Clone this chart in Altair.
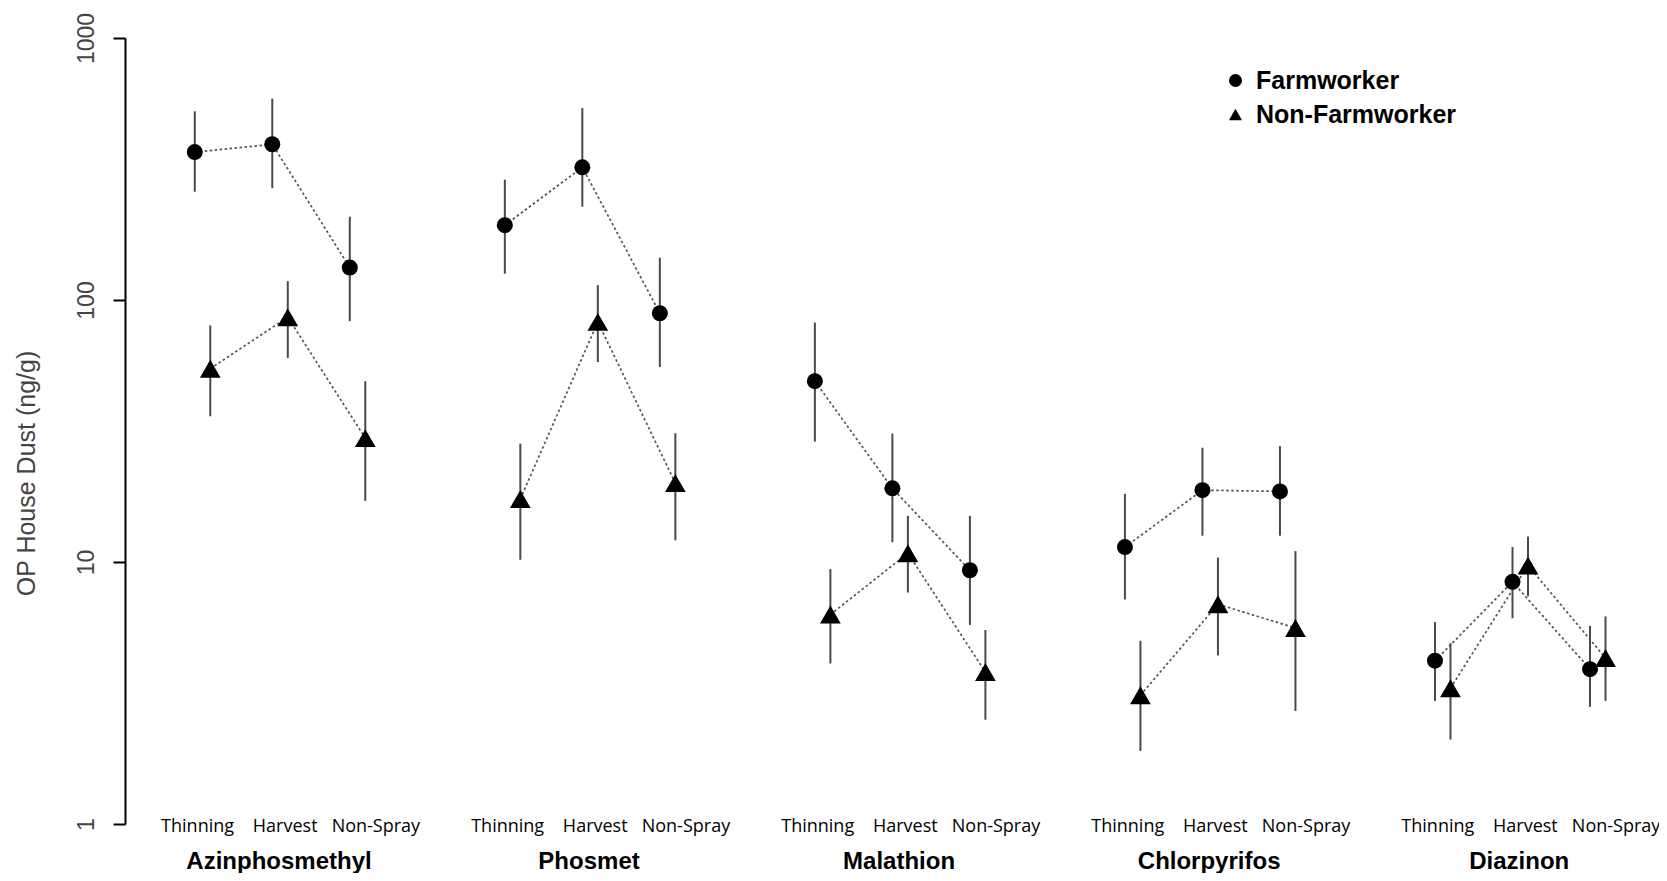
import json
import altair as alt
import pandas as pd

# ---------------- data ----------------
chemicals = ["Azinphosmethyl", "Phosmet", "Malathion", "Chlorpyrifos", "Diazinon"]
seasons = ["Thinning", "Harvest", "Non-Spray"]
groups = ["Farmworker", "Non-Farmworker"]

# geometric means and CI bounds (ng/g), order: chemical x season
farm_mean = [367, 393, 133, 193, 321, 89, 49, 19.1, 9.3, 11.4, 18.8, 18.6, 4.2, 8.4, 3.9]
farm_upper = [525, 587, 208, 288, 540, 145, 82, 30.9, 15.0, 18.2, 27.3, 27.7, 5.9, 11.4, 5.7]
farm_lower = [259, 267, 83, 126, 227, 55.5, 28.8, 11.9, 5.75, 7.2, 12.6, 12.6, 2.95, 6.1, 2.8]

nonfarm_mean = [54.7, 86, 29.7, 17.4, 82.5, 20.0, 6.3, 10.8, 3.8, 3.1, 6.9, 5.6, 3.3, 9.7, 4.3]
nonfarm_upper = [80, 118, 49, 28.3, 114, 31, 9.4, 15.0, 5.5, 5.0, 10.4, 11.0, 4.9, 12.5, 6.2]
nonfarm_lower = [36, 60, 17.1, 10.2, 58, 12.1, 4.1, 7.65, 2.5, 1.9, 4.4, 2.7, 2.1, 7.4, 2.95]

y_ticks = [1, 10, 100, 1000]

# ---------------- layout constants ----------------
GROUP_STEP = 4          # x units between chemical groups
NUDGE = 0.2             # non-farmworker offset
SEASON_LABEL_OFF = [0.03, 1.16, 2.33]
CHEM_LABEL_OFF = 1.08
X_DOMAIN = [-0.90, 18.89]

rows = []
means = [farm_mean, nonfarm_mean]
uppers = [farm_upper, nonfarm_upper]
lowers = [farm_lower, nonfarm_lower]
for ci, chem in enumerate(chemicals):
    for si, season in enumerate(seasons):
        k = ci * 3 + si
        for gi, grp in enumerate(groups):
            rows.append({
                "chemical": chem,
                "season": season,
                "group": grp,
                "series": f"{chem}|{grp}",
                "pos": ci * GROUP_STEP + si + gi * NUDGE,
                "mean": means[gi][k],
                "upper": uppers[gi][k],
                "lower": lowers[gi][k],
            })
df = pd.DataFrame(rows)

season_vals = [ci * GROUP_STEP + off for ci in range(len(chemicals)) for off in SEASON_LABEL_OFF]
chem_vals = [ci * GROUP_STEP + CHEM_LABEL_OFF for ci in range(len(chemicals))]
season_expr = (f"{json.dumps(seasons)}[(datum.value % {GROUP_STEP}) < 0.6 ? 0 : "
               f"((datum.value % {GROUP_STEP}) < 1.8 ? 1 : 2)]")
chem_expr = f"{json.dumps(chemicals)}[floor(datum.value / {GROUP_STEP})]"

x_scale = alt.Scale(domain=X_DOMAIN, nice=False, zero=False)
y_scale = alt.Scale(type="log", domain=[1, 1000], nice=False)

y_axis = alt.Axis(
    values=y_ticks, format="d", grid=False,
    labelAngle=270, labelAlign="center", labelBaseline="alphabetic", labelPadding=20,
    labelFont="Liberation Sans", labelFontSize=23, labelColor="#444444",
    tickSize=12, tickWidth=2, tickColor="black",
    domainColor="black", domainWidth=2,
    title="OP House Dust (ng/g)", titleFont="Liberation Sans", titleFontSize=25,
    titleFontWeight="normal", titleColor="#444444", titleAngle=270,
    titleX=-99, titleY=435, titleAlign="center", titleBaseline="middle",
)

season_axis = alt.Axis(
    orient="bottom",
    values=season_vals, labelExpr=season_expr, title=None, grid=False,
    domain=False, ticks=False, tickSize=0, labelPadding=2, labelBaseline="middle",
    labelFont="Open Sans", labelFontSize=18, labelColor="black",
    labelFlush=False, labelOverlap=False, labelLimit=0,
)
chem_axis = alt.Axis(
    orient="bottom",
    values=chem_vals, labelExpr=chem_expr, title=None, grid=False,
    domain=False, ticks=False, tickSize=0, labelPadding=37, labelBaseline="middle",
    labelFont="Liberation Sans", labelFontSize=24, labelFontWeight="bold",
    labelColor="black", labelFlush=False, labelOverlap=False, labelLimit=0,
)

base = alt.Chart(df)

rules = base.mark_rule(stroke="#4a4a4a", strokeWidth=2).encode(
    x=alt.X("pos:Q", scale=x_scale, axis=chem_axis),
    y=alt.Y("lower:Q", scale=y_scale, axis=y_axis),
    y2="upper:Q",
)

lines = base.mark_line(strokeDash=[2.5, 2.5], strokeWidth=1.7, color="#555555").encode(
    x=alt.X("pos:Q", scale=x_scale, axis=None),
    y=alt.Y("mean:Q", scale=y_scale, axis=y_axis),
    detail="series:N",
    order="pos:Q",
)

points = base.mark_point(filled=True, opacity=1, color="black", strokeWidth=0).encode(
    x=alt.X("pos:Q", scale=x_scale, axis=season_axis),
    y=alt.Y("mean:Q", scale=y_scale, axis=y_axis),
    shape=alt.Shape(
        "group:N",
        scale=alt.Scale(domain=groups, range=["circle", "triangle-up"]),
        legend=alt.Legend(
            title=None, orient="none", legendX=1098, legendY=30, padding=0,
            symbolSize=170, symbolFillColor="black", symbolStrokeColor="black",
            symbolStrokeWidth=0, symbolOpacity=1, labelFont="Liberation Sans", labelFontSize=25,
            labelFontWeight="bold", labelColor="black", labelOffset=8, rowPadding=8,
            labelLimit=0,
        ),
    ),
    size=alt.condition(alt.datum.group == groups[0], alt.value(256), alt.value(430)),
)

chart = (
    alt.layer(rules, lines, points)
    .resolve_axis(x="independent")
    .properties(
        width=1534,
        height=786,
        autosize=alt.AutoSizeParams(type="none"),
        padding={"left": 117, "top": 30, "right": 0, "bottom": 49},
        background="white",
    )
    .configure_view(stroke=None)
)

chart.save("out.html", embed_options={"renderer": "svg", "actions": False})
